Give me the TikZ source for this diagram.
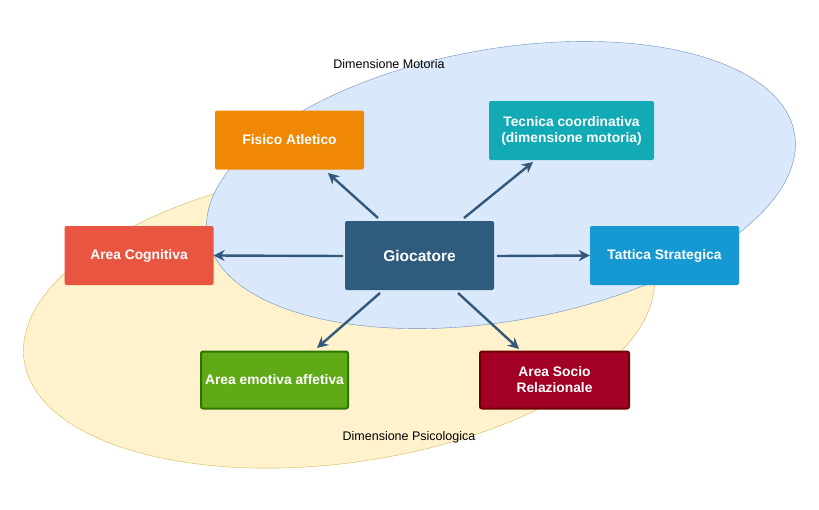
\documentclass[tikz,border=0pt]{standalone}
\usepackage{fontspec}
\setmainfont{Liberation Sans}
\begin{document}
\begin{tikzpicture}[x=1pt,y=-1pt,
 box/.style={rounded corners=2pt,minimum width=149pt,minimum height=59pt,text=white,font=\bfseries\fontsize{13.8}{16}\selectfont,align=center,inner sep=1pt},
 arr/.style={draw=arrowc,line width=2.4pt,-{Stealth[length=11pt,width=11pt]}}]
\usetikzlibrary{arrows.meta}
\definecolor{arrowc}{HTML}{34587A}
\useasboundingbox (0,0) rectangle (819,509);
\draw[fill={rgb,255:red,255;green,242;blue,204},draw={rgb,255:red,214;green,182;blue,86}] (339,316) ellipse[x radius=318,y radius=147,rotate=8];
\draw[fill={rgb,255:red,218;green,232;blue,252},draw={rgb,255:red,108;green,142;blue,191}] (501,185) ellipse[x radius=298,y radius=136,rotate=10];
\node[font=\fontsize{12.5}{14}\selectfont] (dm) at (389,64) {Dimensione Motoria};
\node[font=\fontsize{12.5}{14}\selectfont] (dp) at (409,437) {Dimensione Psicologica};
\node[box,fill={rgb,255:red,240;green,135;blue,5}] (fa) at (289.5,140) {Fisico Atletico};
\node[box,fill={rgb,255:red,18;green,170;blue,181},minimum width=165pt] (tc) at (571.5,130.5) {Tecnica coordinativa\\(dimensione motoria)};
\node[box,fill={rgb,255:red,232;green,86;blue,66}] (ac) at (139,255.5) {Area Cognitiva};
\node[box,fill={rgb,255:red,47;green,91;blue,124},minimum height=69pt,font=\bfseries\fontsize{15.5}{18}\selectfont] (g) at (419.5,255.5) {Giocatore};
\node[box,fill={rgb,255:red,22;green,153;blue,211}] (ts) at (664.5,255.5) {Tattica Strategica};
\node[box,fill={rgb,255:red,96;green,169;blue,23},draw={rgb,255:red,45;green,118;blue,0},line width=2pt,minimum width=147pt,minimum height=57pt] (ae) at (274.5,380) {Area emotiva affetiva};
\node[box,fill={rgb,255:red,162;green,0;blue,37},draw={rgb,255:red,111;green,0;blue,0},line width=2pt,minimum width=149pt,minimum height=57pt] (as) at (554.5,380) {Area Socio\\Relazionale};
\coordinate (g1) at (378,218); \coordinate (g2) at (464,218);
\coordinate (g3) at (343,256); \coordinate (g4) at (497,256);
\coordinate (g5) at (380,293); \coordinate (g6) at (458,293);
\draw[arr] (g1) -- (328,173);
\draw[arr] (g2) -- (533,162);
\draw[arr] (g3) -- (ac.east);
\draw[arr] (g4) -- (ts.west);
\draw[arr] (g5) -- (317,348);
\draw[arr] (g6) -- (519,349);
\end{tikzpicture}
\end{document}
